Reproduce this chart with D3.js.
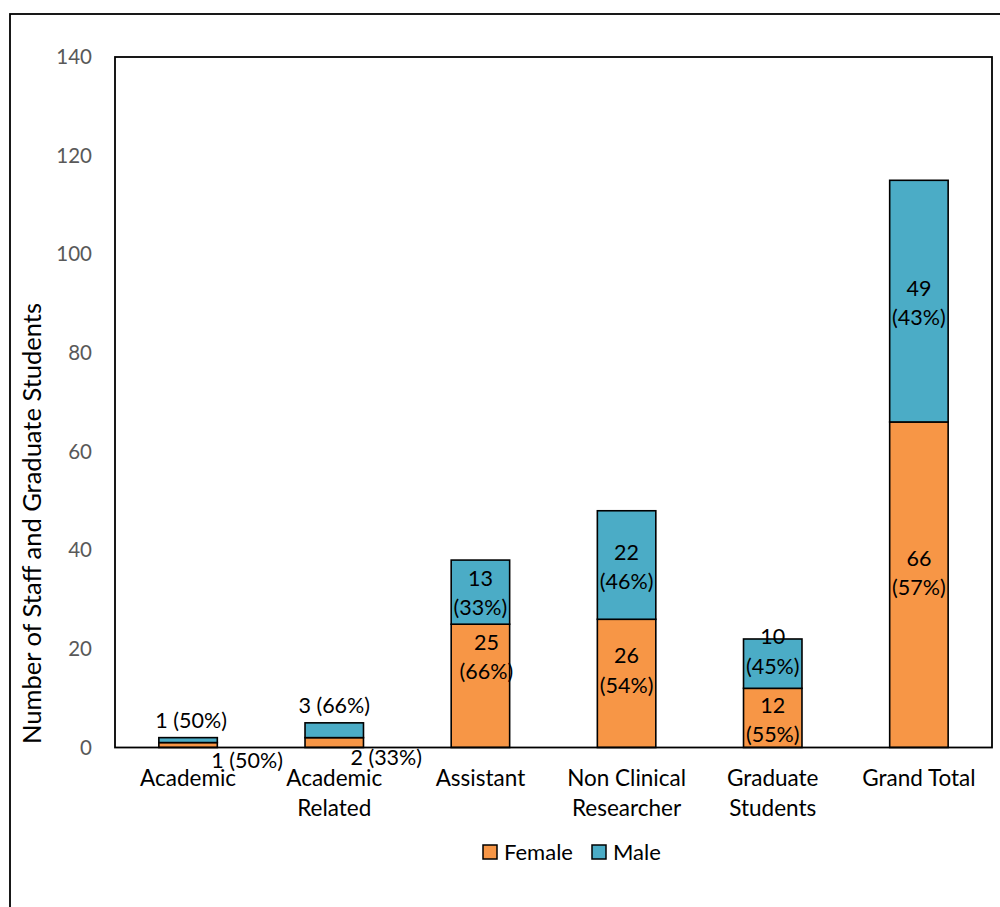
<!DOCTYPE html>
<html>
<head>
<meta charset="utf-8">
<script src="https://cdn.jsdelivr.net/npm/d3@7"></script>
<style>
  html, body { margin: 0; padding: 0; background: #fff; }
  svg { display: block; }
  text { font-family: Lato, "Noto Sans", sans-serif; }
</style>
</head>
<body>
<svg id="chart" width="1000" height="907"></svg>
<script>
// ---- data ----
const categories = [["Academic"], ["Academic", "Related"], ["Assistant"], ["Non Clinical", "Researcher"], ["Graduate", "Students"], ["Grand Total"]];
const female = [1, 2, 25, 26, 12, 66];
const male = [1, 3, 13, 22, 10, 49];
const femaleLabels = [["1 (50%)"], ["2 (33%)"], ["25", "(66%)"], ["26", "(54%)"], ["12", "(55%)"], ["66", "(57%)"]];
const maleLabels = [["1 (50%)"], ["3 (66%)"], ["13", "(33%)"], ["22", "(46%)"], ["10", "(45%)"], ["49", "(43%)"]];
const yTicks = [0, 20, 40, 60, 80, 100, 120, 140];
const seriesNames = ["Female", "Male"];

// ---- layout / style ----
const colors = { Female: "#F79646", Male: "#4BACC6" };
const plot = { left: 115, top: 57, right: 992, bottom: 747.5 };
// label placement nudges (pixels) relative to segment centre, as placed in the original
const femaleNudge = [[59, 15.5], [52, 15], [6, -29], [0, -13], [0, 2], [0, -12]];
const maleNudge = [[3, -20], [0, -25], [0, 1], [0, 2], [0, -12], [0, 2]];

const svg = d3.select("#chart");

// outer frame
svg.append("rect").attr("x", 10).attr("y", 14).attr("width", 1200).attr("height", 1200)
  .attr("fill", "none").attr("stroke", "#000").attr("stroke-width", 1.8);

const x = d3.scaleBand().domain(d3.range(categories.length)).range([plot.left, plot.right]).padding(0);
const y = d3.scaleLinear().domain([0, 140]).range([plot.bottom, plot.top]);
const barW = x.bandwidth() * 0.4;
const cx = i => x(i) + x.bandwidth() / 2;

// y tick labels
svg.append("g").selectAll("text").data(yTicks).join("text")
  .attr("x", 92).attr("y", d => y(d)).attr("dy", "0.35em")
  .attr("text-anchor", "end").attr("fill", "#595959").attr("font-size", 20.5)
  .text(d => d);

// y axis title
svg.append("text")
  .attr("transform", `translate(41,${(302 + 745) / 2}) rotate(-90)`)
  .attr("text-anchor", "middle").attr("fill", "#000").attr("font-size", 25.5)
  .text("Number of Staff and Graduate Students");

// stacked bars
const stackData = categories.map((c, i) => ({ i, Female: female[i], Male: male[i] }));
const stacked = d3.stack().keys(seriesNames)(stackData);

svg.append("g").selectAll("g").data(stacked).join("g")
  .attr("fill", d => colors[d.key])
  .selectAll("rect").data(d => d).join("rect")
  .attr("x", d => cx(d.data.i) - barW / 2)
  .attr("width", barW)
  .attr("y", d => y(d[1]))
  .attr("height", d => y(d[0]) - y(d[1]))
  .attr("stroke", "#000").attr("stroke-width", 1.6);

// plot area border
svg.append("rect").attr("x", plot.left).attr("y", plot.top)
  .attr("width", plot.right - plot.left).attr("height", plot.bottom - plot.top)
  .attr("fill", "none").attr("stroke", "#000").attr("stroke-width", 1.8);

// data labels
const lineH = 29.5;
function drawLabels(series, labels, nudge) {
  series.forEach((d, idx) => {
    const lines = labels[idx];
    const mx = cx(idx) + nudge[idx][0];
    const my = y((d[0] + d[1]) / 2) + nudge[idx][1];
    const t = svg.append("text").attr("text-anchor", "middle").attr("fill", "#000").attr("font-size", 21.5);
    lines.forEach((ln, k) => {
      t.append("tspan").attr("x", mx)
        .attr("y", my + (k - (lines.length - 1) / 2) * lineH)
        .attr("dy", "0.35em").text(ln);
    });
  });
}
drawLabels(stacked[0], femaleLabels, femaleNudge);
drawLabels(stacked[1], maleLabels, maleNudge);

// category labels
categories.forEach((lines, i) => {
  const t = svg.append("text").attr("text-anchor", "middle").attr("fill", "#000").attr("font-size", 22.5);
  lines.forEach((ln, k) => {
    t.append("tspan").attr("x", cx(i)).attr("y", 778 + k * 30).attr("dy", "0.35em").text(ln);
  });
});

// legend
const legendItems = [{ name: "Female", x: 483, tx: 504 }, { name: "Male", x: 592, tx: 613 }];
const lg = svg.append("g");
legendItems.forEach(it => {
  lg.append("rect").attr("x", it.x).attr("y", 845).attr("width", 14).attr("height", 14)
    .attr("fill", colors[it.name]).attr("stroke", "#000").attr("stroke-width", 1.5);
  lg.append("text").attr("x", it.tx).attr("y", 852).attr("dy", "0.35em")
    .attr("font-size", 22).attr("fill", "#000").text(it.name);
});
</script>
</body>
</html>
